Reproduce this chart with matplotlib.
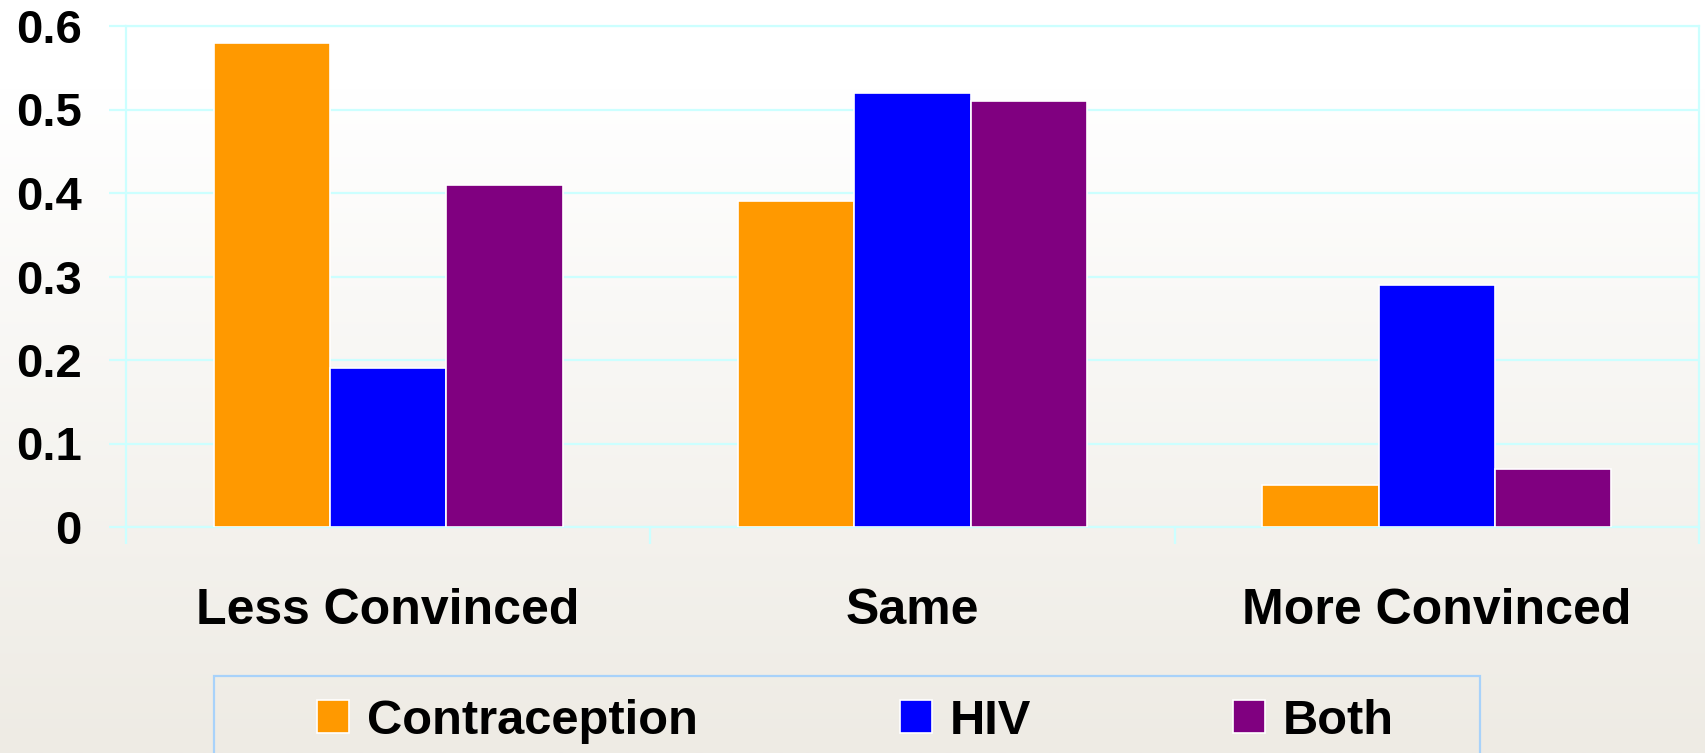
import numpy as np
import matplotlib
matplotlib.use("Agg")
import matplotlib.pyplot as plt
from matplotlib.patches import Rectangle, Patch

categories = ["Less Convinced", "Same", "More Convinced"]
series_names = ["Contraception", "HIV", "Both"]
contraception = [0.58, 0.39, 0.05]
hiv = [0.19, 0.52, 0.29]
both = [0.41, 0.51, 0.07]
y_ticks = [0, 0.1, 0.2, 0.3, 0.4, 0.5, 0.6]
y_tick_labels = ["0", "0.1", "0.2", "0.3", "0.4", "0.5", "0.6"]

colors = ["#FF9900", "#0000FF", "#800080"]
grid_color = "#CCFFFF"

plt.rcParams["font.family"] = ["Liberation Sans", "DejaVu Sans"]
plt.rcParams["font.weight"] = "bold"

W, H = 1706, 753
fig = plt.figure(figsize=(W / 100, H / 100), dpi=100)

# soft vertical gradient behind everything
bg = fig.add_axes([0, 0, 1, 1], zorder=-10)
t = np.linspace(0, 1, 400)[:, None]
ramp = np.clip((t - 0.12) / 0.88, 0, 1)
top = np.array([1.0, 1.0, 1.0])
bottom = np.array([0xEE, 0xEB, 0xE4]) / 255.0
img = top[None, None, :] * (1 - ramp[..., None]) + bottom[None, None, :] * ramp[..., None]
img = np.repeat(img, 2, axis=1)
bg.imshow(img, aspect="auto", extent=[0, 1, 0, 1], origin="upper")
bg.axis("off")

ax = fig.add_axes([126 / W, 226 / H, 1573 / W, 501 / H])
ax.set_facecolor("none")

x = np.arange(len(categories))
bw = 0.222
for i, (vals, name) in enumerate(zip([contraception, hiv, both], series_names)):
    ax.bar(x + (i - 1) * bw, vals, width=bw, color=colors[i],
           edgecolor="white", linewidth=1.2, zorder=3, label=name)

ax.set_xlim(-0.5, 2.5)
ax.set_ylim(0, 0.6)
ax.set_yticks(y_ticks)
ax.set_yticklabels(y_tick_labels, fontsize=34, fontweight="bold")
ax.set_xticks(x)
ax.set_xticklabels(categories, fontsize=36, fontweight="bold")
ax.set_xticks([-0.5, 0.5, 1.5, 2.5], minor=True)

ax.yaxis.grid(True, color=grid_color, linewidth=1.6, zorder=0)
ax.set_axisbelow(True)
ax.tick_params(axis="y", direction="out", length=12, width=1.6, color=grid_color, pad=20)
ax.tick_params(axis="x", which="major", length=0, pad=44)
ax.tick_params(axis="x", which="minor", direction="out", length=12, width=1.6, color=grid_color)
for s in ax.spines.values():
    s.set_color(grid_color)
    s.set_linewidth(1.6)

# legend with its own frame
fig.patches.append(Rectangle((214 / W, -0.05), (1480 - 214) / W, 0.05 + (753 - 676) / H,
                             transform=fig.transFigure, facecolor="none",
                             edgecolor="#A8D2FA", linewidth=1.6, zorder=5))
handles = [Patch(facecolor=c, edgecolor="white", linewidth=1.2) for c in colors]
fig.legend(handles, series_names, loc="center left",
           bbox_to_anchor=(317 / W, 1 - 721 / H), ncol=3, frameon=False,
           prop={"size": 35.2, "weight": "bold"}, handlelength=0.66, handleheight=0.66,
           handletextpad=0.36, columnspacing=4.13, borderpad=0, borderaxespad=0)

fig.savefig("out.png", dpi=100)
